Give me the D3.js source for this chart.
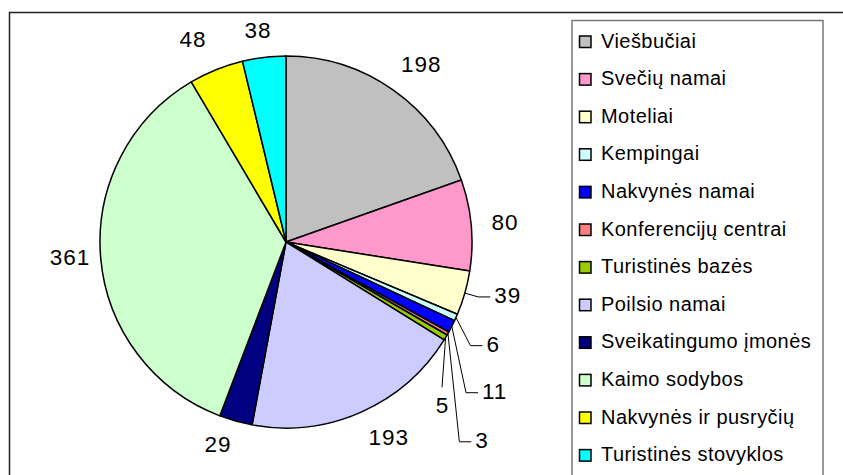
<!DOCTYPE html>
<html>
<head>
<meta charset="utf-8">
<script src="https://cdn.jsdelivr.net/npm/d3@7"></script>
<style>
  html, body { margin: 0; padding: 0; background: #fff; }
  svg { display: block; }
  text { font-family: "Liberation Sans", Arial, sans-serif; fill: #000; }
</style>
</head>
<body>
<svg id="chart" width="843" height="475"></svg>
<script>
const categories = [
  "Viešbučiai", "Svečių namai", "Moteliai", "Kempingai", "Nakvynės namai",
  "Konferencijų centrai", "Turistinės bazės", "Poilsio namai",
  "Sveikatingumo įmonės", "Kaimo sodybos", "Nakvynės ir pusryčių", "Turistinės stovyklos"
];
const values = [198, 80, 39, 6, 11, 3, 5, 193, 29, 361, 48, 38];
const colors = [
  "#C0C0C0", "#FF99CC", "#FFFFCC", "#CCFFFF", "#0000FF", "#FF8080",
  "#99CC00", "#CCCCFF", "#000080", "#CCFFCC", "#FFFF00", "#00FFFF"
];

// label layout tweaks (offsets from automatic placement) and leader styles
const labelNudge = [[6,-5.5],[3,-1],[13,-5],[15,16],[16,53],[13,94],[-24,55],[12,2],[-10,-1],[6,-3],[-12,-7],[-3,-2]];
const leaderType = [null, null, "left", "left", "left", "left", "top", null, null, null, null, null];

const svg = d3.select("#chart");
const cx = 286, cy = 242, R = 186;

// outer chart frame (extends past right/bottom edge)
svg.append("rect").attr("x", 9.5).attr("y", 12.5).attr("width", 900).attr("height", 600)
  .attr("fill", "none").attr("stroke", "#222").attr("stroke-width", 1.5);

const pie = d3.pie().value(d => d).sort(null);
const arcs = pie(values);
const arc = d3.arc().innerRadius(0).outerRadius(R);

const g = svg.append("g").attr("transform", `translate(${cx},${cy})`);
g.selectAll("path.slice").data(arcs).enter().append("path")
  .attr("class", "slice")
  .attr("d", arc)
  .attr("fill", (d, i) => colors[i])
  .attr("stroke", "#000").attr("stroke-width", 1.5).attr("stroke-linejoin", "round");

// data labels
const labelsG = svg.append("g");
const gap = 17, h = 16;
arcs.forEach((a, i) => {
  const th = (a.startAngle + a.endAngle) / 2;
  const s = Math.sin(th), c = Math.cos(th);
  const t = labelsG.append("text")
    .attr("text-anchor", "middle")
    .style("font-size", "22.5px").style("letter-spacing", "1px")
    .text(values[i]);
  const w = t.node().getComputedTextLength();
  const lx = cx + (R + gap) * s + s * w / 2 + labelNudge[i][0];
  const ly = cy - (R + gap) * c - c * h / 2 + labelNudge[i][1];
  t.attr("x", lx + 0.5).attr("y", ly + 8);
  if (leaderType[i]) {
    const ex = cx + R * s, ey = cy - R * c;
    let pts;
    if (leaderType[i] === "left") {
      const endX = lx - w / 2 - 3.5, endY = ly + 2;
      pts = [[ex, ey], [endX - 12, endY], [endX, endY]];
    } else {
      pts = [[ex, ey], [lx, ly - 18]];
    }
    labelsG.append("path")
      .attr("d", d3.line()(pts))
      .attr("fill", "none").attr("stroke", "#000").attr("stroke-width", 1);
  }
});

// legend
const legend = svg.append("g");
legend.append("rect").attr("x", 572).attr("y", 20.5).attr("width", 251).attr("height", 600)
  .attr("fill", "#fff").attr("stroke", "#777").attr("stroke-width", 1.5);
const y0 = 47.5, step = 37.6;
categories.forEach((name, i) => {
  const by = y0 + i * step;
  legend.append("rect").attr("x", 579.5).attr("y", by - 11.5).attr("width", 11.5).attr("height", 11.5)
    .attr("fill", colors[i]).attr("stroke", "#000").attr("stroke-width", 1.5);
  legend.append("text").attr("x", 601).attr("y", by)
    .style("font-size", "20px").style("letter-spacing", "0.45px")
    .text(name);
});
</script>
</body>
</html>
